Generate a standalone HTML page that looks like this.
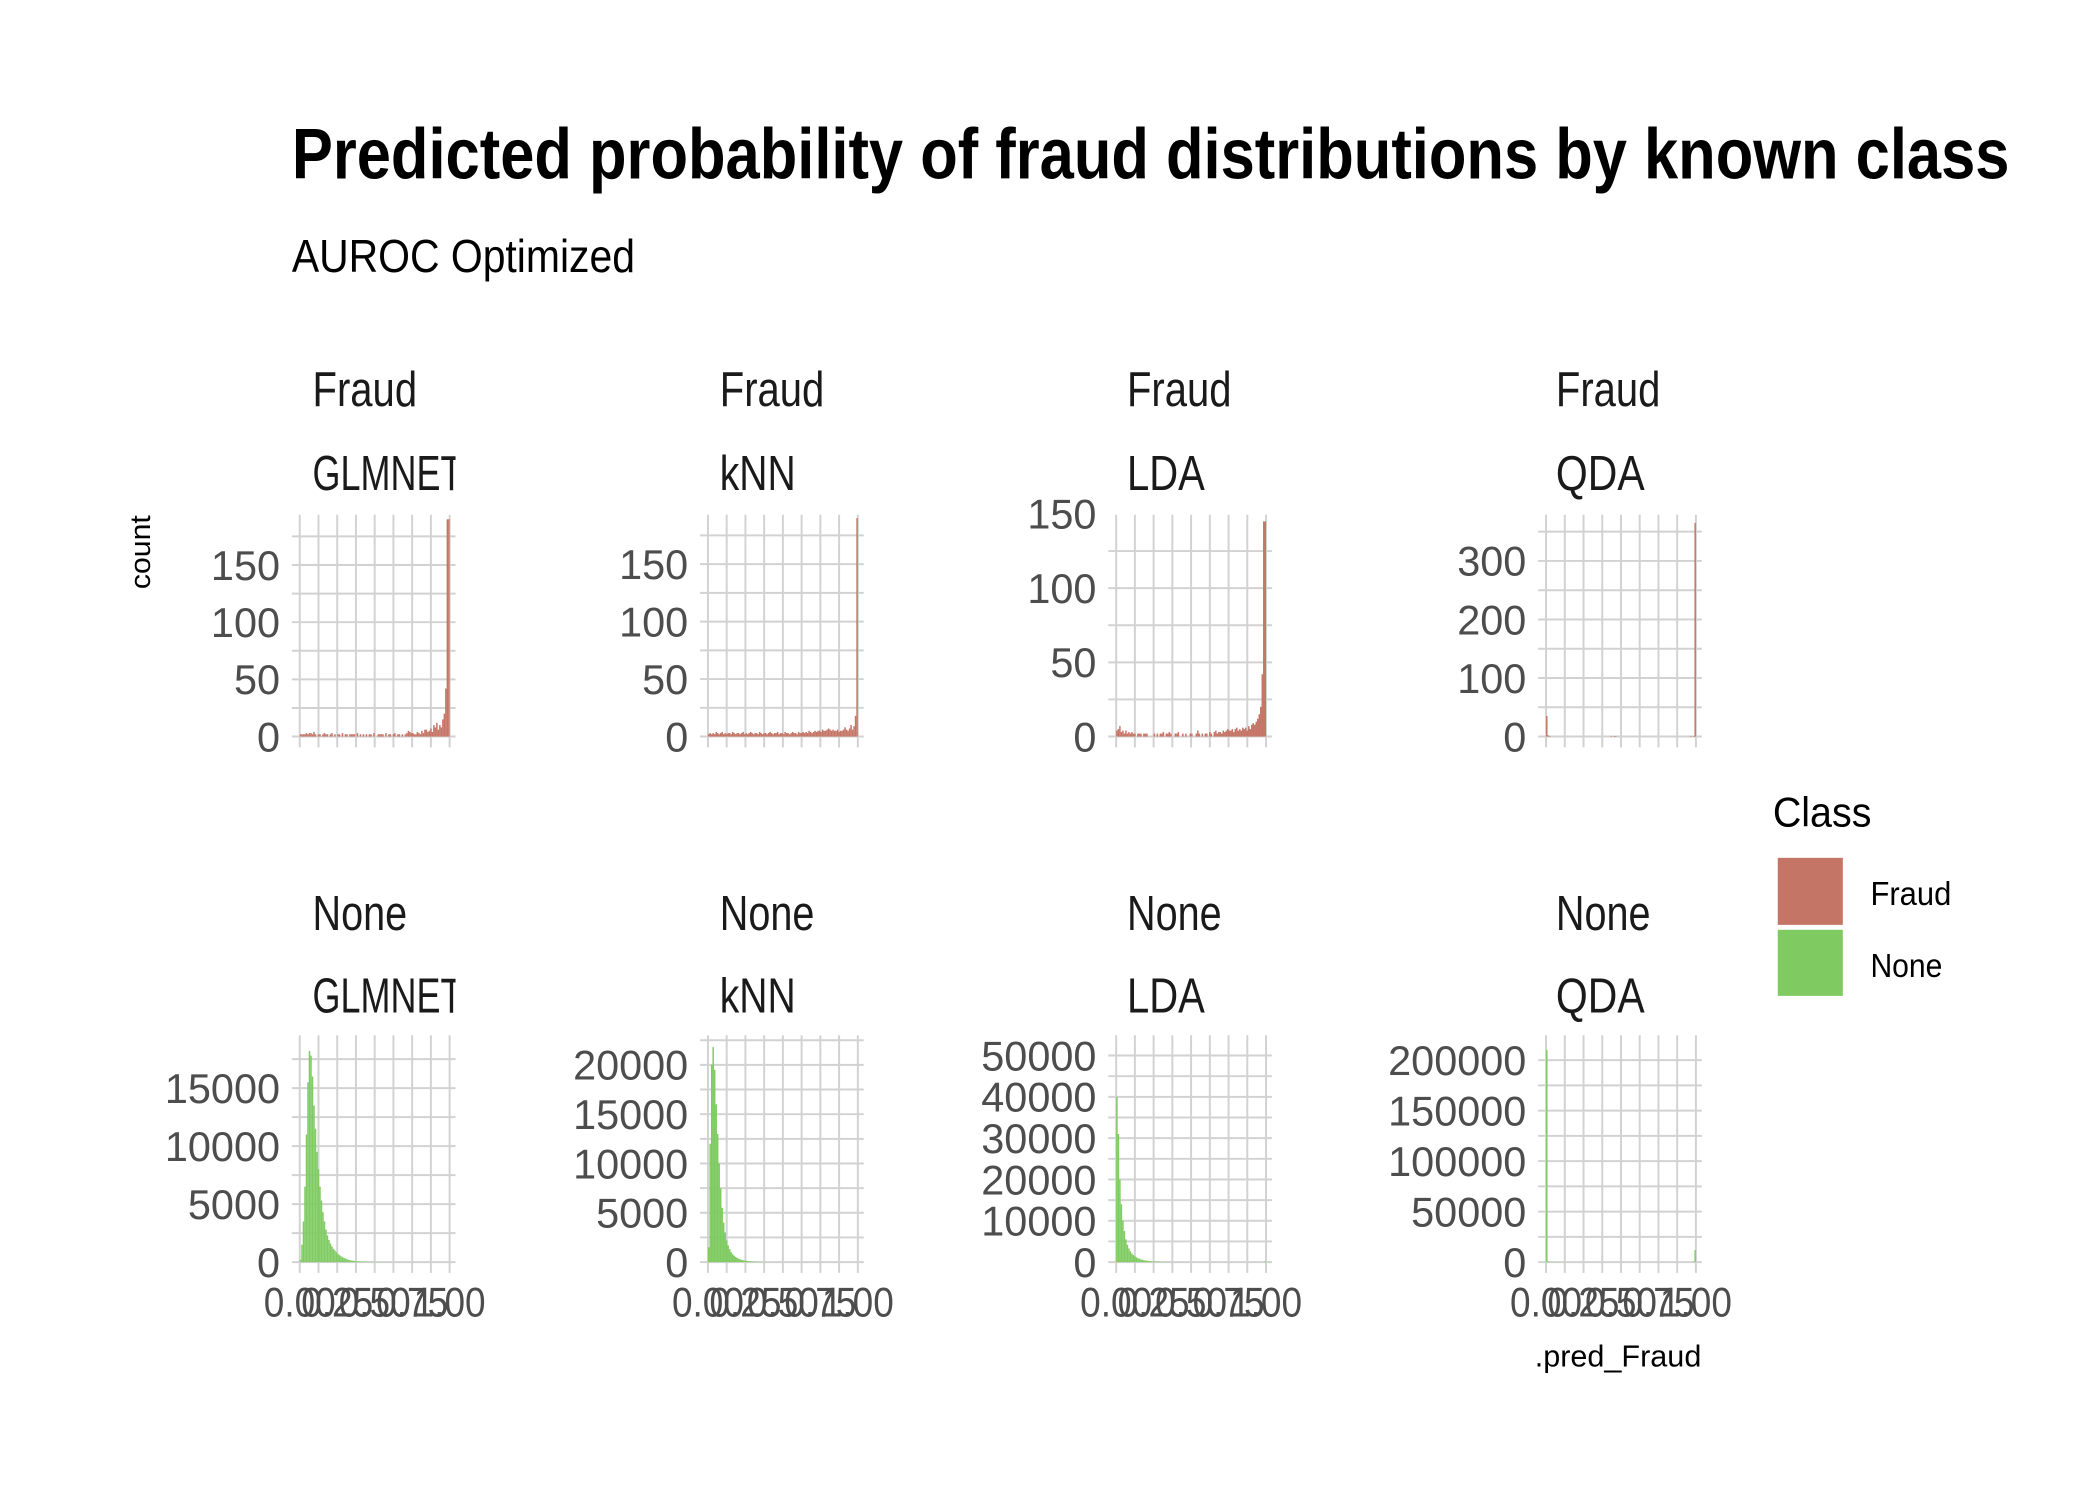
<!DOCTYPE html>
<html><head><meta charset="utf-8"><title>Predicted probability of fraud distributions</title>
<style>
html,body{margin:0;padding:0;background:#fff;}
svg{display:block;font-family:"Liberation Sans Narrow","Liberation Sans",sans-serif;}
</style></head>
<body>
<svg id="chart" width="2100" height="1500" viewBox="0 0 2100 1500" xmlns="http://www.w3.org/2000/svg">
<rect width="2100" height="1500" fill="#fff"/>
<g transform="scale(0.986)">
<text x="296" y="181" font-size="72" font-weight="bold" fill="#000" textLength="1742" lengthAdjust="spacingAndGlyphs">Predicted probability of fraud distributions by known class</text>
<text x="296" y="276" font-size="47" fill="#000" textLength="348" lengthAdjust="spacingAndGlyphs">AUROC Optimized</text>
<text transform="translate(152,560) rotate(-90)" font-size="29" fill="#000" text-anchor="middle" textLength="75" lengthAdjust="spacingAndGlyphs">count</text>
<text x="1641" y="1386" font-size="31" fill="#000" text-anchor="middle" textLength="169" lengthAdjust="spacingAndGlyphs">.pred_Fraud</text>
<g>
<text x="1798" y="838" font-size="42" fill="#000" textLength="100" lengthAdjust="spacingAndGlyphs">Class</text>
<rect x="1803" y="870" width="66" height="68" fill="#C57566"/>
<rect x="1803" y="943" width="66" height="67" fill="#7FCB62"/>
<text x="1897" y="918" font-size="34" fill="#000" textLength="82" lengthAdjust="spacingAndGlyphs">Fraud</text>
<text x="1897" y="991" font-size="34" fill="#000" textLength="73" lengthAdjust="spacingAndGlyphs">None</text>
</g>
<g id="panels"></g>
</g>
</svg>
<script>
const models = ["GLMNET","kNN","LDA","QDA"];
const classes = ["Fraud","None"];
const fraudGLMNET = [2,2,2,2,3,2,3,3,2,4,2,0,2,2,0,2,3,2,2,0,2,3,0,2,0,2,2,0,3,0,2,2,0,2,2,2,2,0,3,0,2,0,2,0,2,0,2,2,0,3,0,0,2,2,2,2,0,3,0,2,2,0,2,3,0,2,2,0,2,0,2,3,5,4,3,3,2,2,4,3,2,5,3,6,6,4,5,7,4,10,8,12,6,10,8,15,20,42,190,0].slice(0,99).concat([190]);
const fraudKNN = [2,3,2,3,2,4,3,2,3,4,2,3,2,3,3,2,4,3,2,3,3,2,3,4,2,3,2,3,4,3,2,3,3,2,4,3,2,3,3,2,3,4,3,2,3,3,4,2,3,3,2,4,3,3,2,3,4,3,3,2,4,3,3,4,3,4,3,5,4,3,4,5,4,5,5,4,6,5,5,6,7,6,5,6,5,5,6,4,5,5,6,8,6,5,7,10,6,9,18,190];
const fraudLDA = [4,5,7,3,4,2,4,2,3,2,3,2,2,0,2,2,2,0,2,2,2,0,0,0,0,2,0,2,0,2,2,3,0,2,2,3,2,0,0,2,2,3,0,0,2,0,2,0,0,2,2,0,0,2,4,2,0,2,0,2,2,0,3,2,0,3,4,2,3,3,2,4,3,4,5,4,4,5,3,5,6,4,5,4,6,5,6,4,7,5,8,9,8,10,12,15,20,42,145,0].slice(0,99).concat([145]);
const fraudQDA = [35,2,1,0,0,0,0,0,0,0,0,0,0,0,0,0,0,0,0,0,0,0,0,0,0,0,0,0,0,0,0,0,0,0,0,0,0,0,0,0,0,0,0,1,0,1,1,0,0,0,0,0,0,0,0,0,0,0,0,0,0,0,0,0,0,0,0,0,0,0,0,0,0,0,0,0,0,0,0,0,0,0,0,0,0,0,0,0,0,0,0,0,0,0,0,0,1,0,1,365];
const noneGLMNET = [200,1500,3500,6500,11000,15500,18200,17800,16000,13500,11500,9500,8000,6500,5300,4300,3500,2800,2300,1900,1600,1350,1150,1000,850,700,600,500,420,350,300,250,200,170,140,120,100,80,70,60,50,45,40,35,30,25,22,20,18,16,14,12,10,9,8,7,6,5,5,4,4,3,3,3,2,2,2,2,2,1,1,1,1,1,1,1,1,1,1,1,1,1,1,1,1,1,1,1,1,1,1,1,1,1,1,1,1,1,1,1];
const noneKNN = [1500,12000,20000,21800,19500,16000,13000,10000,7500,5500,4000,3000,2200,1700,1300,1000,800,650,520,420,340,280,230,190,160,130,110,90,75,60,50,40,30,25,20,15,12,10,8,6,5,4,3,3,2,2,2,1,1,1,1,1,1,1,1,1,1,1,1,1,1,1,1,1,1,1,1,1,1,1,1,1,1,1,1,1,1,1,1,1,1,1,1,1,1,1,1,1,1,1,1,1,1,1,1,1,1,1,1,1];
const noneLDA = [40000,31000,20000,14000,10000,7500,5500,4200,3300,2600,2100,1700,1400,1150,950,800,650,550,460,390,330,280,240,200,170,150,130,110,95,80,70,60,52,45,40,35,30,26,22,20,18,16,14,12,10,9,8,7,6,6,5,5,4,4,4,3,3,3,3,2,2,2,2,2,2,2,2,2,2,2,1,1,1,1,1,1,1,1,1,1,1,1,1,1,1,1,1,1,1,1,1,1,1,1,1,1,1,1,1,200];
const noneQDA = [210000,400,200,150,120,100,80,70,60,50,45,40,35,30,28,26,24,22,20,18,16,15,14,13,12,11,10,10,9,9,8,8,7,7,6,6,6,5,5,5,5,4,4,4,4,4,3,3,3,3,3,3,3,3,3,3,3,3,3,3,3,3,3,3,3,3,3,3,3,3,3,3,3,3,3,3,3,3,3,3,3,3,3,3,3,3,3,3,3,3,3,3,3,3,3,3,3,3,300,12000];
const fraudYTicks = [[0,50,100,150],[0,50,100,150],[0,50,100,150],[0,100,200,300]];
const noneYTicks = [[0,5000,10000,15000],[0,5000,10000,15000,20000],[0,10000,20000,30000,40000,50000],[0,50000,100000,150000,200000]];
const fraudYMax = [194,193,149.5,379];
const noneYMax = [19550,23000,54900,224600];
const xTicks = [0,0.25,0.5,0.75,1];
const xTickLabels = ["0.00","0.25","0.50","0.75","1.00"];

const NS = "http://www.w3.org/2000/svg";
const colLeft = [296,710,1124,1560];
const panelW = 166;
const rowTop = [522,1050];
const rowZero = [747,1280];
const rowBottom = [758,1291];
const fills = ["#C57566","#7FCB62"];
const stripX = [317,730,1143,1578];
const modelW = [152,77,79,90];
const classW = [106,96];
const stripY = [[412,497],[943,1027]];
const root = document.getElementById("panels");

function mk(tag, attrs, parent){
  const el = document.createElementNS(NS, tag);
  for (const k in attrs) el.setAttribute(k, attrs[k]);
  parent.appendChild(el);
  return el;
}

const fraudData = [fraudGLMNET, fraudKNN, fraudLDA, fraudQDA];
const noneData = [noneGLMNET, noneKNN, noneLDA, noneQDA];

for (let r = 0; r < 2; r++) {
  for (let c = 0; c < 4; c++) {
    const L = colLeft[c];
    const xs = v => L + 8 + v * 152;
    const yMax = r === 0 ? fraudYMax[c] : noneYMax[c];
    const ys = v => rowZero[r] - v / yMax * (rowZero[r] - rowTop[r]);
    const data = r === 0 ? fraudData[c] : noneData[c];
    const ticks = r === 0 ? fraudYTicks[c] : noneYTicks[c];
    const g = mk("g", {}, root);
    
    
    const cpId = "clip" + r + c;
    const cp = mk("clipPath", {id: cpId}, g);
    mk("rect", {x: L, y: stripY[r][1] - 60, width: panelW, height: 80}, cp);
    const step = ticks[1] - ticks[0];
    for (let v = 0; v <= yMax + 1e-9; v += step / 2) {
      const ln = mk("line", {x1: L, x2: L + panelW, y1: ys(v), y2: ys(v), stroke: "#d2d2d2", "stroke-width": 2}, g);
      
      
    }
    for (let k = 0; k <= 8; k++) {
      const xv = xs(k / 8);
      const ln = mk("line", {x1: xv, x2: xv, y1: rowTop[r], y2: rowBottom[r], stroke: "#d2d2d2", "stroke-width": 2}, g);
      
      
    }
    const bw = 1 / data.length;
    data.forEach((v, i) => {
      if (v <= 0) return;
      const x0 = xs(i * bw), x1 = xs((i + 1) * bw);
      const y = ys(v);
      const b = mk("rect", {x: x0, y: y, width: Math.max(0.8, x1 - x0), height: rowZero[r] - y, fill: fills[r]}, g);
      
      
    });
    ticks.forEach(t => {
      const tx = mk("text", {x: L - 12, y: ys(t) + 15, "font-size": 42, fill: "#4d4d4d", "text-anchor": "end"}, g);
      tx.textContent = String(t);
      
      
    });
    if (r === 1) {
      xTicks.forEach((t, i) => {
        const tx = mk("text", {x: xs(t), y: 1335, "font-size": 42, fill: "#4d4d4d", "text-anchor": "middle", textLength: 73, lengthAdjust: "spacingAndGlyphs"}, g);
        tx.textContent = xTickLabels[i];
        
        
      });
    }
    const s1 = mk("text", {x: stripX[c], y: stripY[r][0], "font-size": 50, fill: "#1a1a1a", textLength: classW[r], lengthAdjust: "spacingAndGlyphs"}, g);
    s1.textContent = classes[r];
    
    
    const s2 = mk("text", {x: stripX[c], y: stripY[r][1], "font-size": 50, fill: "#1a1a1a", textLength: modelW[c], lengthAdjust: "spacingAndGlyphs", "clip-path": "url(#" + cpId + ")"}, g);
    s2.textContent = models[c];
    
    
  }
}
</script>
</body></html>
